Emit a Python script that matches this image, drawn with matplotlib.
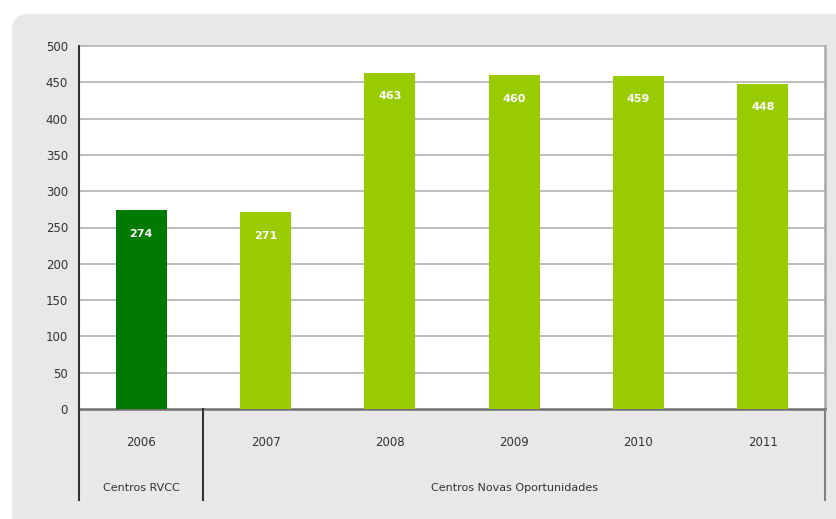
import matplotlib.pyplot as plt
from matplotlib.patches import FancyBboxPatch
import numpy as np

years = ['2006', '2007', '2008', '2009', '2010', '2011']
values = [274, 271, 463, 460, 459, 448]
groups = ['Centros RVCC', 'Centros Novas Oportunidades']
group_sizes = [1, 5]
yticks = [0, 50, 100, 150, 200, 250, 300, 350, 400, 450, 500]

dark = '#007a00'
light = '#99cc00'
colors = [dark] + [light] * 5

fig = plt.figure(figsize=(8.37, 5.19), dpi=100)
fig.patch.set_facecolor('white')
# grey panel with rounded top-left corner
panel = FancyBboxPatch((12, -30), 860, 519 - 14 + 30,
                       boxstyle='round,pad=0,rounding_size=16',
                       transform=None, facecolor='#e8e8e8', edgecolor='none',
                       zorder=0)
fig.add_artist(panel)

ax = fig.add_axes([79 / 837, 1 - 409 / 519, (825 - 79) / 837, (409 - 46) / 519])
ax.set_facecolor('white')
ax.set_zorder(1)

x = np.arange(len(years))
bars = ax.bar(x, values, width=0.41, color=colors, zorder=3)

for xi, v in zip(x, values):
    ax.annotate(str(v), (xi, v), xytext=(0, -17), textcoords='offset points',
                ha='center', va='center', color='white', fontsize=8,
                fontweight='bold', zorder=4)

for t in yticks[1:]:
    ax.axhline(t, color='#b8b8b8', lw=1.3, zorder=1, clip_on=False)

ax.set_xlim(-0.5, len(years) - 0.5)
ax.set_ylim(0, 500)
ax.set_yticks(yticks)
ax.tick_params(axis='y', length=0, labelsize=8.5, colors='#333333', pad=8)
ax.set_xticks([])

ax.spines['top'].set_visible(False)
ax.spines['right'].set_color('#a8a8a8')
ax.spines['right'].set_linewidth(1.8)
ax.spines['left'].set_color('#333333')
ax.spines['left'].set_linewidth(1.5)
ax.spines['bottom'].set_color('#707070')
ax.spines['bottom'].set_linewidth(1.8)

# category table below the axis
tr = ax.get_xaxis_transform()
for xi, yr in zip(x, years):
    ax.text(xi, -0.091, yr, transform=tr, ha='center', va='center',
            fontsize=8.5, color='#333333', clip_on=False)

start = -0.5
for g, n in zip(groups, group_sizes):
    mid = start + n / 2
    ax.text(mid, -0.218, g, transform=tr, ha='center', va='center',
            fontsize=8, color='#333333', clip_on=False)
    start += n

edges = np.cumsum([-0.5] + group_sizes)
for i, e in enumerate(edges):
    c = '#808080' if i == len(edges) - 1 else '#333333'
    ax.plot([e, e], [0, -0.25], transform=tr, color=c, lw=1.5,
            clip_on=False, zorder=5)

fig.savefig('out.png', dpi=100, facecolor=fig.get_facecolor())
